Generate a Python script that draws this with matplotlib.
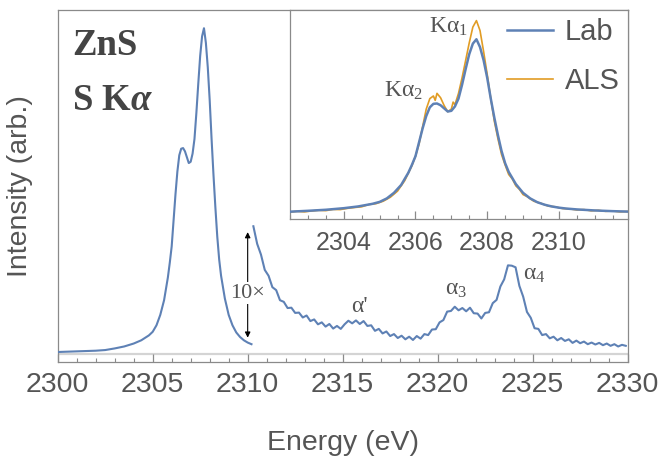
import matplotlib
matplotlib.use("Agg")
import matplotlib.pyplot as plt
from matplotlib.ticker import MultipleLocator
import numpy as np

plt.rcParams['font.family'] = ['Liberation Sans', 'DejaVu Sans']
plt.rcParams['mathtext.fontset'] = 'custom'
plt.rcParams['mathtext.rm'] = 'Liberation Serif'
plt.rcParams['mathtext.it'] = 'Liberation Serif:italic:bold'
plt.rcParams['mathtext.bf'] = 'Liberation Serif:bold'

# Lab spectrum (normalised to Ka1 peak)
lab_e = [2300.0, 2300.5, 2301.0, 2301.5, 2302.0, 2302.5, 2303.0, 2303.5, 2304.0, 2304.4,
         2304.8, 2305.0, 2305.2, 2305.4, 2305.6, 2305.8, 2305.9, 2306.0, 2306.1, 2306.2,
         2306.3, 2306.4, 2306.5, 2306.6, 2306.7, 2306.8, 2306.9, 2307.0, 2307.1, 2307.2,
         2307.3, 2307.4, 2307.5, 2307.6, 2307.7, 2307.8, 2307.9, 2308.0, 2308.1, 2308.2,
         2308.3, 2308.4, 2308.5, 2308.6, 2308.7, 2308.8, 2308.9, 2309.0, 2309.2, 2309.4,
         2309.6, 2309.8, 2310.0, 2310.2, 2310.5, 2311.0, 2311.5, 2312.0]
lab_i = [0.006, 0.007, 0.008, 0.009, 0.010, 0.012, 0.017, 0.023, 0.032, 0.042,
         0.057, 0.068, 0.088, 0.120, 0.165, 0.235, 0.280, 0.330, 0.410, 0.490,
         0.560, 0.610, 0.630, 0.632, 0.622, 0.604, 0.586, 0.590, 0.615, 0.660,
         0.740, 0.830, 0.915, 0.975, 1.000, 0.955, 0.880, 0.780, 0.660, 0.550,
         0.450, 0.360, 0.290, 0.240, 0.205, 0.170, 0.145, 0.120, 0.088, 0.066,
         0.052, 0.042, 0.035, 0.030, 0.025, 0.019, 0.015, 0.012]

# ALS spectrum (inset)
als_e = [2302.5, 2302.7, 2302.9, 2303.1, 2303.3, 2303.5, 2303.7, 2303.9, 2304.1, 2304.3,
         2304.5, 2304.7, 2304.9, 2305.1, 2305.3, 2305.5, 2305.7, 2305.9, 2306.0, 2306.1,
         2306.2, 2306.3, 2306.4, 2306.5, 2306.55, 2306.6, 2306.7, 2306.8, 2306.9, 2307.0,
         2307.05, 2307.1, 2307.2, 2307.3, 2307.4, 2307.5, 2307.6, 2307.7, 2307.8, 2307.9,
         2308.0, 2308.1, 2308.2, 2308.3, 2308.4, 2308.5, 2308.6, 2308.7, 2308.8, 2308.9,
         2309.0, 2309.1, 2309.3, 2309.5, 2309.7, 2309.9, 2310.1, 2310.3, 2310.5, 2310.7,
         2310.9, 2311.1, 2311.3, 2311.5, 2311.7, 2311.9]
als_i = [0.010, 0.014, 0.011, 0.016, 0.020, 0.018, 0.025, 0.024, 0.031, 0.036,
         0.040, 0.053, 0.058, 0.072, 0.095, 0.130, 0.190, 0.275, 0.330, 0.400,
         0.500, 0.600, 0.660, 0.675, 0.650, 0.690, 0.665, 0.620, 0.585, 0.600,
         0.640, 0.625, 0.690, 0.780, 0.880, 0.980, 1.070, 1.107, 1.050, 0.930,
         0.800, 0.660, 0.530, 0.430, 0.340, 0.280, 0.225, 0.200, 0.160, 0.140,
         0.110, 0.100, 0.072, 0.060, 0.044, 0.040, 0.030, 0.028, 0.022, 0.024,
         0.017, 0.020, 0.014, 0.016, 0.011, 0.013]

# high-energy tail, shown magnified 10x
tail_e = [2310.3, 2310.5, 2310.7, 2310.9, 2311.1, 2311.3, 2311.5, 2311.7, 2311.9, 2312.1,
          2312.3, 2312.5, 2312.7, 2312.9, 2313.1, 2313.3, 2313.5, 2313.7, 2313.9, 2314.1,
          2314.3, 2314.5, 2314.7, 2314.9, 2315.1, 2315.3, 2315.5, 2315.7, 2315.9, 2316.1,
          2316.3, 2316.5, 2316.7, 2316.9, 2317.1, 2317.3, 2317.5, 2317.7, 2317.9, 2318.1,
          2318.3, 2318.5, 2318.7, 2318.9, 2319.1, 2319.3, 2319.5, 2319.7, 2319.9, 2320.1,
          2320.3, 2320.5, 2320.7, 2320.9, 2321.1, 2321.3, 2321.5, 2321.7, 2321.9, 2322.1,
          2322.3, 2322.5, 2322.7, 2322.9, 2323.1, 2323.3, 2323.5, 2323.7, 2323.9, 2324.1,
          2324.3, 2324.5, 2324.7, 2324.9, 2325.1, 2325.3, 2325.5, 2325.7, 2325.9, 2326.1,
          2326.3, 2326.5, 2326.7, 2326.9, 2327.1, 2327.3, 2327.5, 2327.7, 2327.9, 2328.1,
          2328.3, 2328.5, 2328.7, 2328.9, 2329.1, 2329.3, 2329.5, 2329.7, 2329.9]
tail_i = [0.392, 0.338, 0.305, 0.258, 0.240, 0.205, 0.196, 0.165, 0.160, 0.141,
          0.142, 0.126, 0.127, 0.112, 0.118, 0.101, 0.106, 0.091, 0.097, 0.084,
          0.092, 0.078, 0.086, 0.077, 0.091, 0.102, 0.094, 0.103, 0.092, 0.101,
          0.086, 0.088, 0.071, 0.077, 0.063, 0.069, 0.055, 0.061, 0.049, 0.056,
          0.045, 0.053, 0.043, 0.055, 0.047, 0.061, 0.058, 0.075, 0.076, 0.097,
          0.104, 0.130, 0.132, 0.145, 0.134, 0.141, 0.131, 0.142, 0.125, 0.124,
          0.109, 0.126, 0.128, 0.156, 0.166, 0.207, 0.229, 0.272, 0.271, 0.266,
          0.209, 0.176, 0.129, 0.111, 0.079, 0.077, 0.058, 0.061, 0.048, 0.053,
          0.042, 0.049, 0.040, 0.045, 0.034, 0.041, 0.033, 0.038, 0.030, 0.035,
          0.029, 0.034, 0.027, 0.032, 0.025, 0.030, 0.023, 0.028, 0.025]

blue = '#5E81B5'
orange = '#E19C24'
frame = '#8a8a8a'
txt = '#555555'

lab_e = np.array(lab_e)
lab_i = np.array(lab_i)

fig = plt.figure(figsize=(6.63, 4.61), dpi=100)
ax = fig.add_axes([0.087, 0.2148, 0.8597, 0.7636])

ax.axhline(0, color='#d4d4d4', lw=1.6, zorder=1)
m = lab_e <= 2310.25
ax.plot(lab_e[m], lab_i[m], color=blue, lw=1.5, zorder=3)
ax.plot(tail_e, tail_i, color=blue, lw=1.5, zorder=3)

ax.set_xlim(2300, 2330)
ax.set_ylim(-0.0246, 1.056)
ax.xaxis.set_major_locator(MultipleLocator(5))
ax.xaxis.set_minor_locator(MultipleLocator(1))
ax.set_yticks([])
ax.tick_params(axis='x', which='both', direction='in', colors=frame, labelcolor=txt,
               labelsize=20.5, pad=7)
ax.tick_params(axis='x', which='major', length=5.5, width=0.9)
ax.tick_params(axis='x', which='minor', length=3, width=0.8)
for s in ax.spines.values():
    s.set_color(frame)
    s.set_linewidth(0.9)
ax.set_xlabel('Energy (eV)', fontsize=20.5, color=txt, labelpad=23)
ax.set_ylabel('Intensity (arb.)', fontsize=20.5, color=txt, labelpad=18)

ax.text(0.025, 0.872, 'ZnS', transform=ax.transAxes, fontsize=26.5, color='#444444',
        family='Liberation Serif', fontweight='bold', va='baseline')
ax.text(0.025, 0.716, r'S K$\alpha$', transform=ax.transAxes, fontsize=26.5, color='#444444',
        family='Liberation Serif', fontweight='bold', va='baseline')

# 10x magnification marker
ax.annotate('', xy=(2310.0, 0.050), xytext=(2310.0, 0.374),
            arrowprops=dict(arrowstyle='<|-|>', color='black', lw=0.8,
                            mutation_scale=8, shrinkA=0, shrinkB=0))
ax.text(2310.0, 0.187, '10×', fontsize=16, family='Liberation Serif', color=txt,
        ha='center', va='center', zorder=4,
        bbox=dict(facecolor='white', edgecolor='none', pad=1))

ax.text(2315.86, 0.130, "α'", fontsize=17, family='Liberation Serif', color=txt,
        ha='center', va='baseline')
ax.text(2320.4, 0.181, r'α$_3$', fontsize=17, family='Liberation Serif', color=txt,
        ha='left', va='baseline')
ax.text(2324.5, 0.227, r'α$_4$', fontsize=17, family='Liberation Serif', color=txt,
        ha='left', va='baseline')

# inset: Lab vs ALS
ins = fig.add_axes([0.4374, 0.525, 0.5094, 0.4534])
ins.plot(als_e, als_i, color=orange, lw=1.2, label='ALS', zorder=2)
ins.plot(lab_e, lab_i, color=blue, lw=1.8, label='Lab', zorder=3)
ins.set_xlim(2302.5, 2311.92)
ins.set_ylim(-0.0298, 1.168)
ins.xaxis.set_major_locator(MultipleLocator(2))
ins.xaxis.set_minor_locator(MultipleLocator(0.5))
ins.set_yticks([])
ins.tick_params(axis='x', which='both', direction='in', colors=frame, labelcolor=txt,
                labelsize=18, pad=9)
ins.tick_params(axis='x', which='major', length=5.5, width=0.9)
ins.tick_params(axis='x', which='minor', length=3, width=0.8)
for s in ins.spines.values():
    s.set_color(frame)
    s.set_linewidth(0.9)

ins.text(2306.2, 0.669, r'Kα$_2$', fontsize=17, family='Liberation Serif', color=txt,
         ha='right', va='baseline')
ins.text(2307.46, 1.036, r'Kα$_1$', fontsize=17, family='Liberation Serif', color=txt,
         ha='right', va='baseline')

h, l = ins.get_legend_handles_labels()
leg = ins.legend(h[::-1], l[::-1], loc='upper right', frameon=False, fontsize=21,
                 handlelength=1.6, handletextpad=0.4, labelspacing=0.72,
                 borderaxespad=0.12, borderpad=0.15)
for t in leg.get_texts():
    t.set_color(txt)

fig.savefig('out.png', dpi=100)
